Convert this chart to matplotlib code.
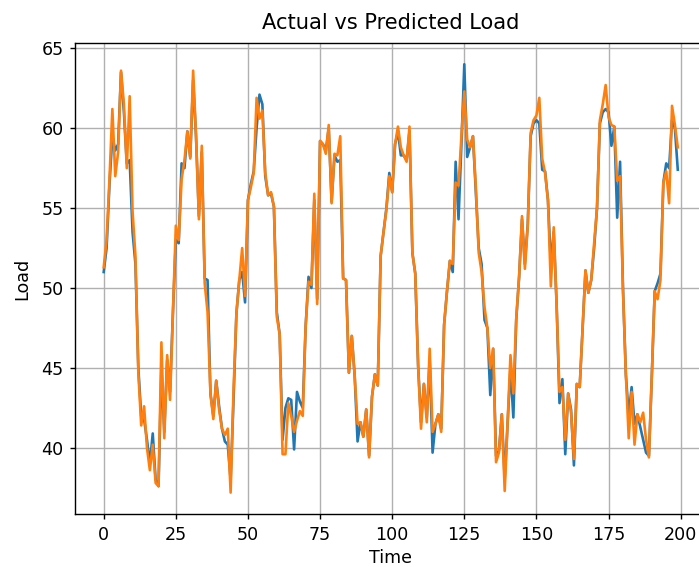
import matplotlib
matplotlib.use("Agg")
import matplotlib.pyplot as plt
import numpy as np

actual = [
    51.0, 52.5, 56.5, 59.5, 58.6, 59.0, 63.5, 61.0, 57.8, 58.0,
    53.5, 51.5, 45.0, 42.0, 41.8, 40.5, 39.0, 40.9, 38.0, 37.6,
    45.0, 41.0, 45.5, 43.5, 48.5, 53.0, 52.8, 57.8, 57.5, 59.8,
    58.2, 63.0, 59.5, 54.5, 58.5, 50.6, 50.5, 43.4, 42.0, 44.2,
    42.6, 41.2, 40.4, 40.2, 38.0, 43.0, 48.4, 50.5, 51.0, 49.1,
    55.5, 56.5, 57.3, 60.0, 62.1, 61.5, 57.0, 55.8, 55.9, 55.1,
    48.5, 47.1, 40.5, 42.5, 43.1, 43.0, 39.9, 43.5, 42.9, 42.5,
    47.6, 50.7, 50.0, 55.5, 49.3, 59.2, 59.0, 58.6, 60.0, 55.4,
    58.3, 57.9, 58.0, 50.6, 50.5, 44.7, 47.0, 44.5, 40.4, 41.6,
    40.7, 42.4, 39.5, 43.2, 44.6, 43.9, 52.0, 53.5, 55.0, 57.2,
    56.0, 59.0, 59.8, 58.3, 58.3, 58.0, 59.8, 52.2, 50.9, 45.1,
    41.6, 44.0, 41.9, 45.5, 39.7, 41.5, 42.1, 41.2, 47.7, 49.8,
    51.7, 51.0, 57.9, 54.3, 59.0, 64.0, 58.2, 58.8, 59.5, 56.0,
    52.5, 51.5, 48.0, 47.5, 43.3, 46.2, 39.5, 39.8, 42.1, 38.0,
    41.5, 45.0, 41.9, 48.0, 50.7, 54.3, 51.5, 54.0, 59.5, 60.3,
    60.5, 60.3, 57.4, 57.3, 55.5, 51.5, 53.5, 49.0, 42.8, 44.3,
    39.6, 43.4, 42.4, 38.9, 44.0, 43.8, 47.4, 51.1, 49.7, 50.5,
    52.5, 55.0, 60.3, 61.0, 61.2, 61.0, 58.9, 60.1, 54.4, 57.9,
    50.0, 44.6, 42.0, 43.8, 41.5, 42.1, 41.3, 40.5, 39.7, 39.5,
    44.5, 49.8, 50.3, 50.9, 56.6, 57.8, 57.5, 60.5, 60.0, 57.4,
]

predicted = [
    51.3, 53.0, 56.8, 61.2, 57.0, 58.5, 63.6, 61.5, 57.5, 62.0,
    54.8, 52.0, 44.7, 41.4, 42.6, 40.0, 38.6, 40.2, 37.8, 37.6,
    46.6, 40.6, 45.8, 43.0, 48.5, 53.9, 53.0, 56.8, 58.0, 59.8,
    58.1, 63.6, 59.5, 54.3, 58.9, 50.3, 48.5, 43.4, 41.8, 44.2,
    42.4, 41.2, 40.8, 41.2, 37.2, 43.6, 48.4, 50.5, 52.5, 49.5,
    55.5, 56.3, 57.2, 61.9, 60.6, 61.1, 57.2, 55.8, 56.0, 55.1,
    48.2, 47.1, 39.6, 39.6, 42.8, 42.0, 41.0, 41.7, 42.3, 42.0,
    47.6, 50.4, 50.2, 55.9, 49.0, 59.2, 59.0, 58.4, 60.2, 55.3,
    58.4, 58.3, 59.5, 50.6, 50.5, 44.7, 47.0, 44.5, 41.5, 41.6,
    40.7, 42.4, 39.4, 43.2, 44.6, 43.9, 52.0, 53.5, 54.9, 57.0,
    56.0, 59.0, 60.1, 58.8, 58.3, 57.9, 60.1, 52.2, 50.9, 45.1,
    41.2, 44.0, 41.6, 46.2, 41.0, 41.5, 42.1, 41.0, 47.7, 49.8,
    51.7, 51.5, 56.6, 56.4, 59.5, 62.3, 59.3, 58.8, 59.5, 56.3,
    52.2, 51.0, 48.8, 47.5, 45.0, 46.2, 39.1, 39.7, 42.1, 37.3,
    41.5, 45.8, 43.4, 48.1, 50.7, 54.5, 51.2, 53.9, 59.7, 60.5,
    60.8, 61.9, 58.1, 57.2, 55.5, 50.1, 53.8, 48.9, 43.5, 43.8,
    40.5, 43.4, 42.2, 39.3, 44.0, 43.8, 47.4, 51.1, 49.7, 50.5,
    52.8, 55.0, 60.5, 61.5, 62.7, 60.7, 60.2, 60.1, 56.7, 57.0,
    49.9, 44.6, 40.6, 43.5, 40.2, 42.1, 41.6, 42.2, 40.5, 39.4,
    44.5, 49.8, 49.3, 50.5, 56.6, 57.3, 55.3, 61.4, 60.2, 58.8,
]

time = np.arange(len(actual))

DPI = 126
fig = plt.figure(figsize=(699 / DPI, 567 / DPI), dpi=DPI)
ax = fig.add_axes([0.1073, 0.0929, 0.9034, 0.8307])
ax.plot(time, actual, color="#1f77b4", linewidth=1.5, label="Actual")
ax.plot(time, predicted, color="#ff7f0e", linewidth=1.5, label="Predicted")
ax.set_xlim(-9.95, 208.95)
ax.set_ylim(35.84, 65.31)
ax.set_xticks([0, 25, 50, 75, 100, 125, 150, 175, 200])
ax.set_yticks([40, 45, 50, 55, 60, 65])
ax.tick_params(length=2.9)
ax.set_title("Actual vs Predicted Load", pad=7.9)
ax.set_xlabel("Time", labelpad=3.0)
ax.set_ylabel("Load", labelpad=5.9)
ax.grid(True)
fig.savefig("out.png", dpi=DPI)
